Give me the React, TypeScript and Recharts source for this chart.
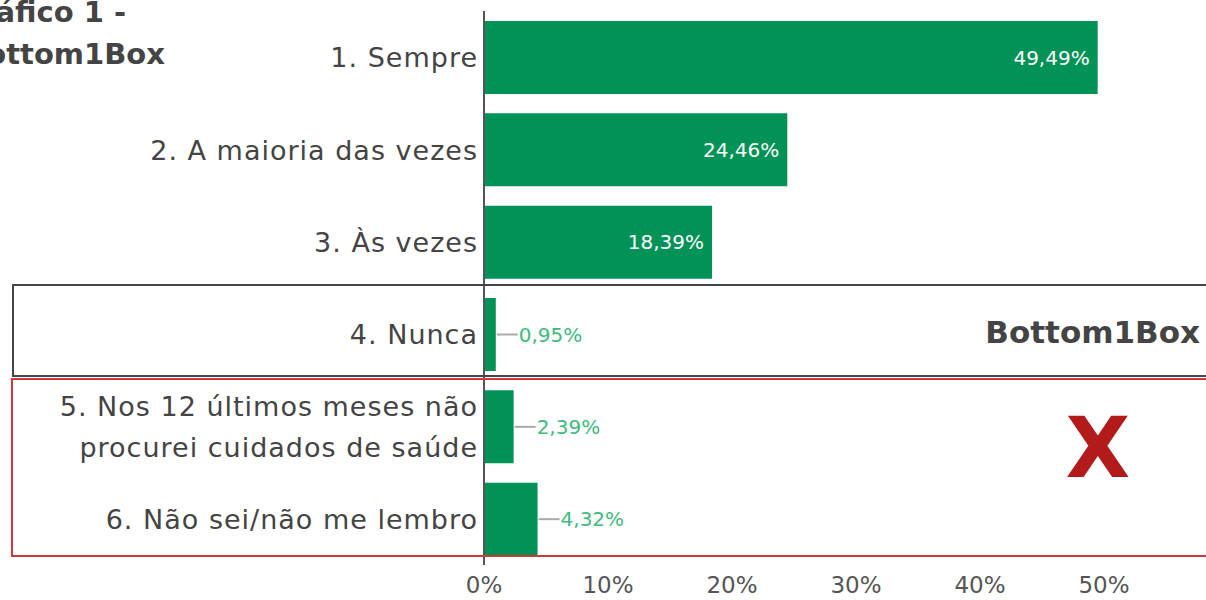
import { BarChart, Bar, XAxis, YAxis, LabelList } from 'recharts';

const categories = [
  '1. Sempre',
  '2. A maioria das vezes',
  '3. Às vezes',
  '4. Nunca',
  '5. Nos 12 últimos meses não\nprocurei cuidados de saúde',
  '6. Não sei/não me lembro',
];
const values = [49.49, 24.46, 18.39, 0.95, 2.39, 4.32];
const xTicks = [0, 10, 20, 30, 40, 50];

const data = categories.map((name, i) => ({ name, value: values[i] }));

const FONT = '"DejaVu Sans", sans-serif';
const GREEN = '#009256';

const fmt = (v: number) => `${v.toFixed(2).replace('.', ',')}%`;

function CategoryTick({ x, y, payload }: any) {
  const lines = String(payload.value).split('\n');
  const lh = 41;
  const start = -((lines.length - 1) * lh) / 2;
  return (
    <text x={x} y={y} textAnchor="end" fill="#444" fontSize={27} letterSpacing={1} fontFamily={FONT}>
      {lines.map((l, i) => (
        <tspan key={i} x={x} dy={i === 0 ? start + 10 : lh}>{l}</tspan>
      ))}
    </text>
  );
}

function ValueLabel({ x, y, width, height, value }: any) {
  const cy = y + height / 2;
  if (value > 10) {
    return (
      <text x={x + width - 8} y={cy} dy={7} textAnchor="end" fill="#fff" fontSize={20} fontFamily={FONT}>
        {fmt(value)}
      </text>
    );
  }
  const ex = x + width;
  return (
    <g>
      <line x1={ex + 1} y1={cy} x2={ex + 22} y2={cy} stroke="#aaa" strokeWidth={2} />
      <text x={ex + 23} y={cy} dy={7} textAnchor="start" fill="#3dba7e" fontSize={20} fontFamily={FONT}>
        {fmt(value)}
      </text>
    </g>
  );
}

export default function App() {
  return (
    <div style={{ position: 'fixed', left: 0, top: 0, width: 1206, height: 600, overflow: 'hidden', background: '#fff' }}>
      <div style={{ position: 'absolute', left: 0, top: 0 }}>
        <BarChart
          layout="vertical"
          width={1240}
          height={600}
          data={data}
          margin={{ top: 11, right: 12, bottom: 0, left: 0 }}
        >
          <XAxis
            type="number"
            domain={[0, 60]}
            ticks={xTicks}
            tickFormatter={(v: number) => `${v}%`}
            axisLine={false}
            tickLine={false}
            tickMargin={6}
            height={35}
            tick={{ fill: '#555', fontSize: 23, fontFamily: FONT }}
          />
          <YAxis
            type="category"
            dataKey="name"
            width={484}
            axisLine={{ stroke: '#555', strokeWidth: 2 }}
            tickLine={false}
            tickMargin={0}
            tick={<CategoryTick />}
            interval={0}
          />
          <Bar dataKey="value" fill={GREEN} barSize={73} isAnimationActive={false}>
            <LabelList dataKey="value" content={<ValueLabel />} />
          </Bar>
        </BarChart>
      </div>

      <svg width={1206} height={600} style={{ position: 'absolute', left: 0, top: 0, pointerEvents: 'none' }}>
        <g fontFamily={FONT} fontWeight="bold" fill="#444">
          <text x={126} y={22} fontSize={29} textAnchor="end">Gráfico 1 -</text>
          <text x={165} y={64} fontSize={29} textAnchor="end">Bottom1Box</text>
          <text x={1200} y={343} fontSize={31} textAnchor="end">Bottom1Box</text>
        </g>
        <rect x={13} y={285} width={1300} height={91} fill="none" stroke="#444" strokeWidth={2} />
        <rect x={12} y={379} width={1300} height={177} fill="none" stroke="#cc3b3b" strokeWidth={2} />
        <text x={1098} y={477} fontSize={84} fontWeight="bold" fontFamily={FONT} fill="#b31b1b" textAnchor="middle">X</text>
      </svg>
    </div>
  );
}
